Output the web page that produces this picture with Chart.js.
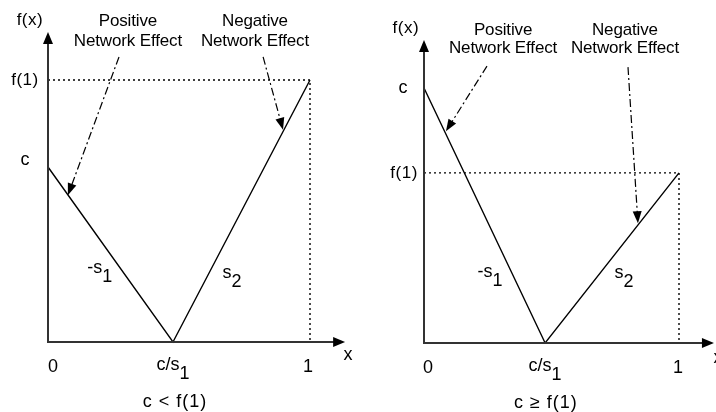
<!DOCTYPE html>
<html>
<head>
<meta charset="utf-8">
<script src="https://cdn.jsdelivr.net/npm/chart.js@4/dist/chart.umd.min.js"></script>
<style>
  html, body { margin: 0; padding: 0; background: #fff; }
  #wrap { position: relative; width: 716px; height: 412px; overflow: hidden; }
  canvas { position: absolute; top: 0; }
  #left { left: 0; }
  #right { left: 358px; }
</style>
</head>
<body>
<div id="wrap">
  <canvas id="left" width="358" height="412"></canvas>
  <canvas id="right" width="358" height="412"></canvas>
</div>
<script>
// ── Data: V-shaped f(x), sampled at x = 0, c/s1, 1 ──
const leftX  = [0, 0.477, 1];
const leftY  = [0.668, 0, 1];      // c, 0, f(1)
const rightX = [0, 0.475, 1];
const rightY = [1, 0, 0.667];      // c, 0, f(1)

const tickLabels = [['0', ''], ['c/s', '1'], ['1', '']];
const slopeLabels = [['-s', '1'], ['s', '2']];
const captions = ['c < f(1)', 'c \u2265 f(1)'];
const effectLabels = [['Positive', 'Network Effect'], ['Negative', 'Network Effect']];

// ── Annotation placement (data units of each panel) ──
const leftNotes = {
  axisEnd: [1.134, 1.183],
  fx: [-0.069, 1.229], cLab: [-0.088, 0.695], f1Lab: [-0.088, 1.0],
  ticksY: -0.097, tickX: [0.019, null, 0.992],
  slopePos: [[0.198, 0.282], [0.702, 0.263]],
  effectX: [0.305, 0.79], effectY: [1.225, 1.149],
  arrows: [[[0.271, 1.088], [0.076, 0.56]], [[0.821, 1.088], [0.897, 0.81]]],
  xLab: [1.145, -0.05], caption: [0.485, -0.229]
};
const rightNotes = {
  axisEnd: [1.137, 1.188],
  fx: [-0.071, 1.235], cLab: [-0.082, 1.0], f1Lab: [-0.078, 0.667],
  ticksY: -0.098, tickX: [0.016, null, 0.996],
  slopePos: [[0.259, 0.278], [0.784, 0.275]],
  effectX: [0.31, 0.788], effectY: [1.227, 1.157],
  arrows: [[[0.247, 1.086], [0.086, 0.83]], [[0.8, 1.082], [0.839, 0.47]]],
  xLab: [1.153, -0.059], caption: [0.478, -0.235]
};

const FAMILY = '"Liberation Sans", Arial, Helvetica, sans-serif';

function arrowHead(ctx, x0, y0, x1, y1, len, half) {
  const a = Math.atan2(y1 - y0, x1 - x0);
  const bx = x1 - len * Math.cos(a), by = y1 - len * Math.sin(a);
  ctx.beginPath();
  ctx.moveTo(x1, y1);
  ctx.lineTo(bx + half * Math.sin(a), by - half * Math.cos(a));
  ctx.lineTo(bx - half * Math.sin(a), by + half * Math.cos(a));
  ctx.closePath();
  ctx.fill();
}

// main text with a lowered index, centred as one piece
function subText(ctx, main, sub, cx, cy) {
  const wm = ctx.measureText(main).width;
  const ws = sub ? ctx.measureText(sub).width : 0;
  const x0 = cx - (wm + ws) / 2;
  ctx.textAlign = 'left';
  ctx.fillText(main, x0, cy);
  if (sub) ctx.fillText(sub, x0 + wm, cy + 9);
}

function setFont(ctx, size, spacing) {
  ctx.font = size + 'px ' + FAMILY;
  if ('letterSpacing' in ctx) ctx.letterSpacing = spacing + 'px';
}

const diagramPlugin = {
  id: 'diagram',
  afterDatasetsDraw(chart, args, opts) {
    const { ctx, scales: { x, y } } = chart;
    const n = opts.notes, xs = opts.xs;
    const px = v => x.getPixelForValue(v), py = v => y.getPixelForValue(v);
    ctx.save();

    // axes
    ctx.strokeStyle = '#333';
    ctx.fillStyle = '#000';
    ctx.lineWidth = 2;
    ctx.setLineDash([]);
    ctx.beginPath();
    ctx.moveTo(px(0), py(n.axisEnd[1]) + 10);
    ctx.lineTo(px(0), py(0));
    ctx.lineTo(px(n.axisEnd[0]) - 10, py(0));
    ctx.stroke();
    arrowHead(ctx, px(0), py(0), px(0), py(n.axisEnd[1]), 12, 5);
    arrowHead(ctx, px(0), py(0), px(n.axisEnd[0]), py(0), 12, 5);

    // dash-dot pointers
    ctx.strokeStyle = '#000';
    ctx.lineWidth = 1.2;
    n.arrows.forEach(([a, b]) => {
      const x0 = px(a[0]), y0 = py(a[1]), x1 = px(b[0]), y1 = py(b[1]);
      const ang = Math.atan2(y1 - y0, x1 - x0);
      ctx.setLineDash([8, 3, 2, 3]);
      ctx.beginPath();
      ctx.moveTo(x0, y0);
      ctx.lineTo(x1 - 10 * Math.cos(ang), y1 - 10 * Math.sin(ang));
      ctx.stroke();
      ctx.setLineDash([]);
      arrowHead(ctx, x0, y0, x1, y1, 12, 4.5);
    });

    // texts
    ctx.fillStyle = '#000';
    ctx.textBaseline = 'middle';
    ctx.textAlign = 'center';
    setFont(ctx, 17, 0.5);
    ctx.fillText('f(x)', px(n.fx[0]), py(n.fx[1]));
    ctx.fillText('f(1)', px(n.f1Lab[0]), py(n.f1Lab[1]));
    setFont(ctx, 18, 0);
    ctx.fillText('c', px(n.cLab[0]), py(n.cLab[1]));
    ctx.fillText('x', px(n.xLab[0]), py(n.xLab[1]));
    setFont(ctx, 17, -0.15);
    effectLabels.forEach((lines, i) => {
      lines.forEach((t, j) => ctx.fillText(t, px(n.effectX[i]), py(n.effectY[j])));
    });
    setFont(ctx, 18, 0);
    tickLabels.forEach(([m, s], i) => {
      const tx = n.tickX[i] == null ? xs[i] : n.tickX[i];
      subText(ctx, m, s, px(tx), py(n.ticksY) - (s ? 2 : 0));
    });
    slopeLabels.forEach(([m, s], i) => {
      subText(ctx, m, s, px(n.slopePos[i][0]), py(n.slopePos[i][1]));
    });
    ctx.textAlign = 'center';
    setFont(ctx, 18, 1);
    ctx.fillText(opts.caption, px(n.caption[0]), py(n.caption[1]));
    ctx.restore();
  }
};

function makePanel(id, xs, ys, notes, caption, pad) {
  const f1 = ys[ys.length - 1];
  return new Chart(document.getElementById(id), {
    type: 'scatter',
    data: {
      datasets: [
        {
          data: xs.map((v, i) => ({ x: v, y: ys[i] })),
          showLine: true,
          borderColor: '#000',
          borderWidth: 1.4,
          pointRadius: 0,
          clip: false
        },
        {
          data: [{ x: 0, y: f1 }, { x: xs[xs.length - 1], y: f1 }, { x: xs[xs.length - 1], y: 0 }],
          showLine: true,
          borderColor: '#000',
          borderWidth: 1.4,
          borderDash: [2, 3],
          pointRadius: 0,
          clip: false
        }
      ]
    },
    options: {
      responsive: false,
      animation: false,
      layout: { padding: pad },
      scales: {
        x: { type: 'linear', min: 0, max: 1, display: false },
        y: { type: 'linear', min: 0, max: 1, display: false }
      },
      plugins: {
        legend: { display: false },
        tooltip: { enabled: false },
        diagram: { notes, xs, caption }
      }
    },
    plugins: [diagramPlugin]
  });
}

makePanel('left', leftX, leftY, leftNotes, captions[0], { left: 48, right: 48, top: 80, bottom: 70 });
makePanel('right', rightX, rightY, rightNotes, captions[1], { left: 66, right: 37, top: 88, bottom: 69 });
</script>
</body>
</html>
